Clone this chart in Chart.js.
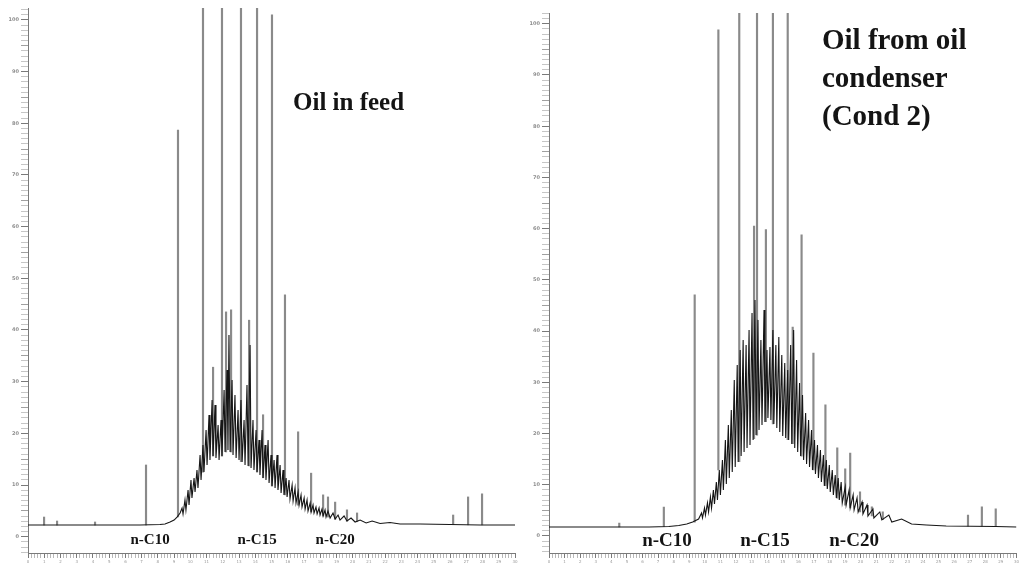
<!DOCTYPE html>
<html><head><meta charset="utf-8">
<script src="https://cdn.jsdelivr.net/npm/chart.js@4/dist/chart.umd.min.js"></script>
<style>
html,body{margin:0;padding:0;background:#fff;width:1021px;height:571px;overflow:hidden}
#feed{position:absolute;left:0;top:0}
#cond{position:absolute;left:520px;top:0}
</style></head><body>
<canvas id="feed" width="520" height="571"></canvas>
<canvas id="cond" width="501" height="571"></canvas>
<script>
// ---- data (retention time in min, detector response in %) ----
const yTickValues = [0,10,20,30,40,50,60,70,80,90,100];
const alkaneLabels = ['n-C10','n-C15','n-C20'];
const feedAlkaneTimes = [7.52, 14.11, 18.92];
const condAlkaneTimes = [7.57, 13.86, 19.58];
const feedTitle = ['Oil in feed'];
const condTitle = ['Oil from oil', 'condenser', '(Cond 2)'];

// chromatogram trace: [time, response]
const feedTrace = [[0,2.26],[4.44,2.26],[6.90,2.26],[8.13,2.36],[8.44,2.46],[8.75,2.85],[9.00,3.23],[9.18,3.81],[9.37,4.59],[9.49,5.55],[9.55,4.39],[9.67,7.10],[9.73,5.17],[9.86,9.04],[9.92,6.13],[10.04,10.97],[10.10,7.49],[10.23,11.36],[10.29,8.65],[10.41,12.91],[10.47,9.42],[10.60,15.81],[10.66,10.97],[10.78,17.75],[10.84,12.52],[10.97,20.65],[11.03,13.88],[11.15,23.55],[11.21,14.84],[11.34,26.45],[11.40,15.61],[11.52,25.49],[11.58,15.23],[11.71,21.62],[11.77,14.84],[11.89,22.58],[11.95,15.61],[12.08,28.39],[12.14,16.39],[12.26,32.26],[12.32,16.78],[12.38,39.03],[12.45,16.39],[12.57,30.33],[12.63,15.81],[12.75,27.42],[12.82,15.23],[12.94,24.52],[13.00,14.84],[13.12,26.45],[13.19,14.46],[13.31,22.58],[13.37,13.88],[13.49,29.36],[13.56,13.68],[13.68,37.10],[13.74,13.30],[13.86,22.58],[13.92,12.91],[14.05,20.65],[14.11,12.52],[14.23,18.72],[14.29,11.94],[14.42,20.65],[14.48,11.36],[14.60,17.75],[14.66,10.97],[14.79,18.72],[14.85,10.39],[14.97,15.81],[15.03,9.81],[15.16,14.84],[15.22,9.43],[15.34,15.81],[15.40,9.04],[15.53,13.88],[15.59,8.46],[15.71,12.91],[15.77,8.07],[15.90,11.36],[15.96,7.68],[16.08,10.97],[16.14,7.30],[16.27,10.01],[16.33,6.91],[16.45,9.43],[16.51,6.52],[16.64,8.65],[16.70,6.13],[16.82,8.07],[16.88,5.75],[17.01,7.49],[17.07,5.36],[17.19,7.10],[17.25,4.97],[17.38,6.52],[17.44,4.78],[17.56,6.13],[17.62,4.59],[17.74,5.75],[17.81,4.39],[17.93,5.55],[17.99,4.20],[18.11,5.36],[18.18,4.01],[18.30,5.17],[18.36,3.81],[18.48,4.97],[18.61,3.62],[18.79,4.59],[18.92,3.43],[19.10,4.20],[19.22,3.23],[19.47,4.01],[19.65,3.04],[19.90,3.62],[20.15,2.85],[20.46,3.23],[20.83,2.65],[21.20,3.04],[21.69,2.55],[22.30,2.75],[22.92,2.46],[24.15,2.46],[26.00,2.36],[27.85,2.26],[30.0,2.26]];

// resolved peaks: [time, start response, apex response]
const feedPeaks = [[0.99,2.26,3.81],[1.79,2.26,3.04],[4.13,2.26,2.85],[7.27,2.26,13.88],[9.24,3.81,78.7],[10.78,12.5,120],[11.40,15.6,32.8],[11.95,15.6,120],[12.20,16.4,43.5],[12.51,16.4,43.9],[13.12,14.5,120],[13.62,13.7,41.9],[14.11,12.5,120],[14.48,11.4,23.6],[15.03,9.8,101.0],[15.83,8.1,46.8],[16.64,6.1,20.3],[17.44,4.8,12.3],[18.18,4.0,8.1],[18.48,3.8,7.7],[18.92,3.4,6.7],[19.65,3.0,5.2],[20.27,2.9,4.6],[26.19,2.4,4.2],[27.11,2.3,7.7],[27.97,2.3,8.3]];

const condTrace = [[0,1.76],[4.51,1.76],[6.42,1.76],[7.69,1.86],[8.33,2.05],[8.84,2.34],[9.22,2.73],[9.60,3.32],[9.79,4.49],[9.85,3.52],[9.98,5.47],[10.04,4.10],[10.17,6.45],[10.24,4.69],[10.36,7.62],[10.43,5.47],[10.55,8.98],[10.62,6.25],[10.74,10.55],[10.81,7.03],[10.93,12.89],[11.00,8.01],[11.13,14.84],[11.19,8.98],[11.32,18.75],[11.38,10.16],[11.51,21.68],[11.57,11.33],[11.70,24.61],[11.76,12.50],[11.89,30.47],[11.95,13.48],[12.08,33.40],[12.14,14.45],[12.27,36.33],[12.33,15.63],[12.46,38.28],[12.52,16.41],[12.65,37.30],[12.71,17.19],[12.84,40.23],[12.90,17.77],[13.03,43.55],[13.10,18.75],[13.22,46.09],[13.29,19.73],[13.41,42.19],[13.48,20.70],[13.60,38.28],[13.67,21.68],[13.80,44.14],[13.86,22.27],[13.99,36.33],[14.05,23.05],[14.18,36.91],[14.24,22.66],[14.37,40.23],[14.43,21.88],[14.56,37.30],[14.62,21.09],[14.75,38.87],[14.81,20.31],[14.94,35.35],[15.00,19.53],[15.13,33.79],[15.19,19.14],[15.32,32.42],[15.38,18.75],[15.51,37.30],[15.58,17.97],[15.70,40.23],[15.77,17.19],[15.89,34.38],[15.96,16.41],[16.08,29.88],[16.15,15.63],[16.27,27.54],[16.34,14.84],[16.47,24.02],[16.53,14.06],[16.66,22.66],[16.72,13.48],[16.85,20.70],[16.91,12.89],[17.04,18.75],[17.10,12.11],[17.23,17.77],[17.29,11.33],[17.42,16.80],[17.48,10.55],[17.61,15.82],[17.67,9.77],[17.80,14.84],[17.86,9.18],[17.99,13.87],[18.05,8.59],[18.18,12.89],[18.25,8.01],[18.37,11.91],[18.44,7.42],[18.56,11.33],[18.63,7.03],[18.75,10.55],[18.82,6.45],[19.01,9.57],[19.07,6.05],[19.26,8.98],[19.33,5.47],[19.52,8.01],[19.58,5.08],[19.77,7.42],[19.84,4.69],[20.09,6.64],[20.15,4.30],[20.41,6.05],[20.47,3.91],[20.79,5.27],[20.85,3.52],[21.23,4.69],[21.36,3.13],[21.81,4.10],[22.00,2.73],[22.63,3.32],[23.27,2.34],[24.22,2.15],[25.49,1.95],[28.67,1.86],[30.0,1.76]];

const condPeaks = [[4.51,1.76,2.5],[7.37,1.8,5.66],[9.35,2.7,47.1],[10.87,12.9,98.8],[12.21,14.5,120],[13.16,19.0,60.5],[13.35,19.7,120],[13.92,22.3,59.8],[14.37,21.9,120],[15.32,18.8,120],[15.64,18.0,40.8],[16.21,15.6,58.8],[16.97,12.9,35.7],[17.74,9.8,25.6],[18.50,7.4,17.2],[19.01,6.0,13.1],[19.33,5.5,16.2],[19.96,4.7,8.6],[20.72,3.9,5.7],[21.42,3.2,4.7],[26.89,1.9,4.1],[27.78,1.9,5.7],[28.67,1.9,5.3]];

// ---- rendering ----
const isWhole = v => Math.abs(v - Math.round(v)) < 1e-6;

const textPlugin = {
  id: 'texts',
  afterDraw(chart, args, o) {
    const {ctx} = chart, xs = chart.scales.x, ys = chart.scales.y;
    ctx.save();
    ctx.fillStyle = '#141414';
    ctx.textBaseline = 'middle';
    ctx.textAlign = 'center';
    ctx.font = `bold ${o.labelSize}px "Liberation Serif"`;
    o.labelTimes.forEach((t, i) => ctx.fillText(alkaneLabels[i], xs.getPixelForValue(t), ys.getPixelForValue(o.labelValue)));
    ctx.textAlign = 'left';
    ctx.font = `bold ${o.titleSize}px "Liberation Serif"`;
    o.titleLines.forEach((line, i) => ctx.fillText(line, o.titleX, o.titleY + i * o.titleLH));
    ctx.restore();
  }
};

function buildChart(id, trace, peaks, p) {
  return new Chart(document.getElementById(id), {
    type: 'line',
    data: { datasets: [
      { type: 'line', data: trace.map(([x, y]) => ({x, y})), borderColor: '#161616', borderWidth: 1.1,
        pointRadius: 0, tension: 0, fill: false, clip: 0 },
      { type: 'bar', data: peaks.map(([x, b, t]) => ({x, y: [b, t]})), backgroundColor: '#8a8a8a',
        borderWidth: 0, barThickness: 1.5, clip: 0 }
    ]},
    options: {
      responsive: false, animation: false, devicePixelRatio: 1,
      layout: { padding: { top: p.top, right: p.right, left: 0, bottom: 0 } },
      plugins: { legend: { display: false }, tooltip: { enabled: false }, texts: p.texts },
      scales: {
        x: {
          type: 'linear', min: 0, max: 30, offset: false,
          afterFit: s => { s.height = 18; },
          grid: { display: true, drawOnChartArea: false, drawTicks: true, tickLength: 5, offset: false,
                  tickColor: c => isWhole(c.tick.value) ? '#7a7a7a' : '#b8b8b8' },
          border: { display: true, color: '#7a7a7a', width: 1 },
          ticks: { stepSize: 0.2, autoSkip: false, maxRotation: 0, minRotation: 0, includeBounds: false,
                   padding: 2, color: '#9a9a9a', font: { size: 4, family: 'DejaVu Sans' },
                   callback: v => isWhole(v) ? String(Math.round(v)) : '' }
        },
        y: {
          type: 'linear', min: p.ymin, max: p.ymax,
          afterFit: s => { s.width = p.axisW; },
          grid: { display: true, drawOnChartArea: false, drawTicks: true, tickLength: 7,
                  tickColor: c => { const v = c.tick.value; return (isWhole(v) && Math.round(v) % 10 === 0) ? '#7a7a7a' : (isWhole(v) && Math.round(v) % 5 === 0 ? '#a0a0a0' : '#c6c6c6'); } },
          border: { display: true, color: '#7a7a7a', width: 1 },
          ticks: { stepSize: 1, autoSkip: false, includeBounds: false, padding: 2, color: '#8e8e8e',
                   font: { size: 5, family: 'DejaVu Sans', weight: 'bold' },
                   callback: v => (isWhole(v) && yTickValues.includes(Math.round(v))) ? String(Math.round(v)) : '' }
        }
      }
    },
    plugins: [textPlugin]
  });
}

buildChart('feed', feedTrace, feedPeaks, {
  top: 8, right: 5, axisW: 28, ymin: -3.15, ymax: 102.3,
  texts: { labelTimes: feedAlkaneTimes, labelValue: -0.64, labelSize: 15,
           titleLines: feedTitle, titleX: 293, titleY: 104, titleLH: 38, titleSize: 25 }
});
buildChart('cond', condTrace, condPeaks, {
  top: 13, right: 0, axisW: 29, ymin: -3.32, ymax: 102.1,
  texts: { labelTimes: condAlkaneTimes, labelValue: -0.98, labelSize: 19,
           titleLines: condTitle, titleX: 302, titleY: 42, titleLH: 38, titleSize: 29 }
});
</script>
</body></html>
